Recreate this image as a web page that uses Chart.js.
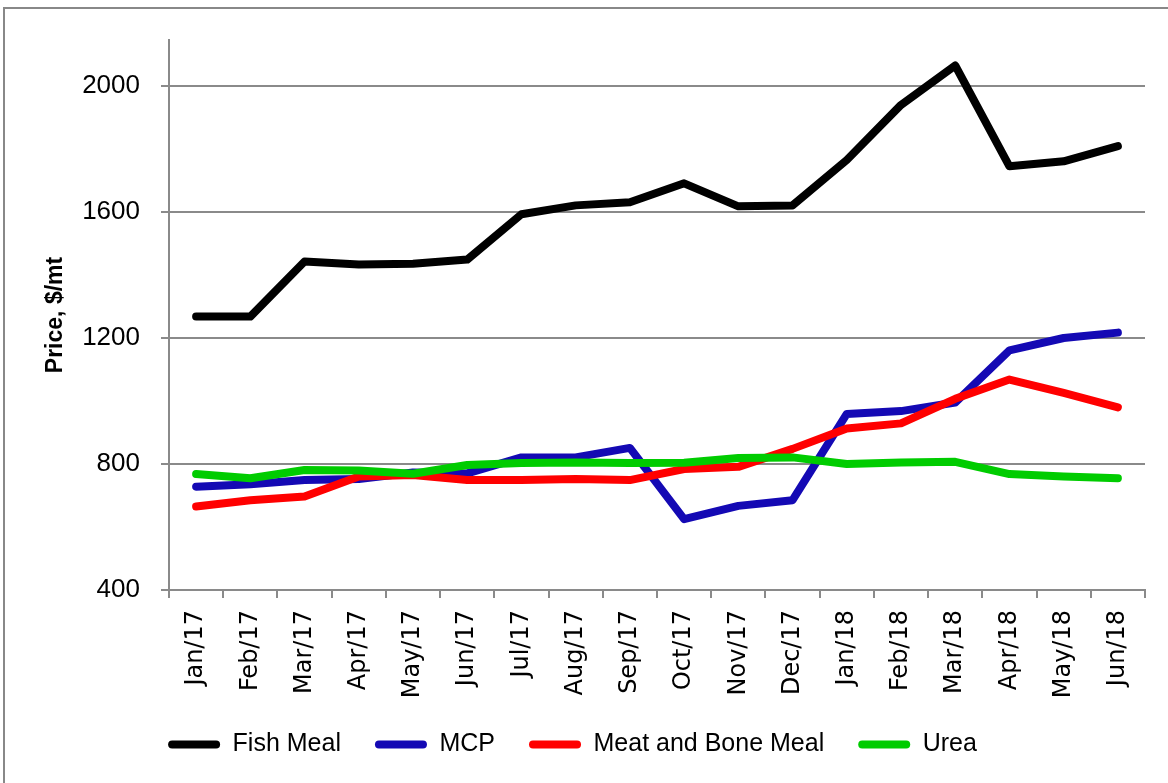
<!DOCTYPE html>
<html>
<head>
<meta charset="utf-8">
<script src="https://cdn.jsdelivr.net/npm/chart.js@4.4.1/dist/chart.umd.min.js"></script>
<style>
  body { margin: 0; background: #fff; }
  #wrap { position: relative; width: 1168px; height: 783px; overflow: hidden; }
  #frame { position: absolute; left: 3px; top: 7px; width: 1200px; height: 800px;
           border-top: 2px solid #888; border-left: 2px solid #888; }
  #myChart { position: absolute; left: 0; top: 0; }
</style>
</head>
<body>
<div id="wrap">
  <div id="frame"></div>
  <canvas id="myChart" width="1168" height="783"></canvas>
</div>
<script>
// month labels
const months = ["Jan/17", "Feb/17", "Mar/17", "Apr/17", "May/17", "Jun/17", "Jul/17", "Aug/17", "Sep/17",
                "Oct/17", "Nov/17", "Dec/17", "Jan/18", "Feb/18", "Mar/18", "Apr/18", "May/18", "Jun/18"];

// prices, $/mt
const fishMeal = [1268, 1268, 1443, 1433, 1436, 1449, 1593, 1621, 1631, 1691, 1618, 1621, 1765, 1940, 2065, 1745, 1761, 1809];
const mcp = [728, 736, 749, 752, 773, 770, 821, 821, 851, 625, 667, 685, 959, 968, 995, 1161, 1200, 1217];
const meatBone = [665, 685, 697, 760, 765, 749, 749, 752, 749, 784, 791, 848, 913, 929, 1007, 1068, 1026, 980];
const urea = [768, 755, 781, 779, 769, 797, 803, 805, 803, 804, 819, 821, 800, 805, 807, 768, 760, 755];

const yTicks = [400, 800, 1200, 1600, 2000];

const gridGray = "#8a8a8a";

function lineSet(label, data, color, order) {
    return {
        label: label,
        data: data,
        borderColor: color,
        backgroundColor: color,
        borderWidth: 8,
        borderCapStyle: "round",
        borderJoinStyle: "round",
        pointRadius: 0,
        pointHoverRadius: 0,
        tension: 0,
        fill: false,
        order: order
    };
}

let grafico = new Chart("myChart", {
    type: "line",
    data: {
        labels: months,
        datasets: [
            lineSet("Fish Meal", fishMeal, "#000000", 4),
            lineSet("MCP", mcp, "#1409b4", 3),
            lineSet("Meat and Bone Meal", meatBone, "#ff0000", 2),
            lineSet("Urea", urea, "#00cc00", 1)
        ]
    },
    options: {
        responsive: false,
        animation: false,
        layout: { padding: { left: 0, top: 40, right: 23, bottom: 16 } },
        scales: {
            x: {
                offset: true,
                grid: { drawOnChartArea: false, offset: true, drawTicks: true, tickLength: 8, color: gridGray, lineWidth: 2 },
                border: { color: gridGray, width: 2 },
                ticks: {
                    autoSkip: false, minRotation: 90, maxRotation: 90, padding: 12,
                    color: "#000", font: { family: "DejaVu Sans", size: 24 }
                },
                afterFit: (scale) => { scale.height = 108; }
            },
            y: {
                min: 400,
                max: 2146,
                afterBuildTicks: (scale) => { scale.ticks = yTicks.map(v => ({ value: v })); },
                grid: { color: gridGray, lineWidth: 2, drawTicks: true, tickLength: 8 },
                border: { color: gridGray, width: 2 },
                ticks: {
                    padding: 21, color: "#000", font: { family: "Liberation Sans", size: 26 },
                    callback: (v) => String(v)
                },
                title: {
                    display: true,
                    text: "Price, $/mt",
                    color: "#000",
                    padding: { top: 42, bottom: 0 },
                    font: { family: "Liberation Sans", size: 23, weight: "bold" }
                },
                afterFit: (scale) => { scale.width = 169; }
            }
        },
        plugins: {
            legend: {
                display: true,
                position: "bottom",
                labels: {
                    boxWidth: 52,
                    boxHeight: 8,
                    padding: 34,
                    useBorderRadius: true,
                    borderRadius: 4,
                    color: "#000",
                    font: { family: "Liberation Sans", size: 25 },
                    sort: (a, b) => a.datasetIndex - b.datasetIndex,
                    generateLabels: (chart) => {
                        const items = Chart.defaults.plugins.legend.labels.generateLabels(chart);
                        items.forEach(it => { it.lineWidth = 0; });
                        return items;
                    }
                }
            },
            tooltip: { enabled: false }
        }
    }
});
</script>
</body>
</html>
